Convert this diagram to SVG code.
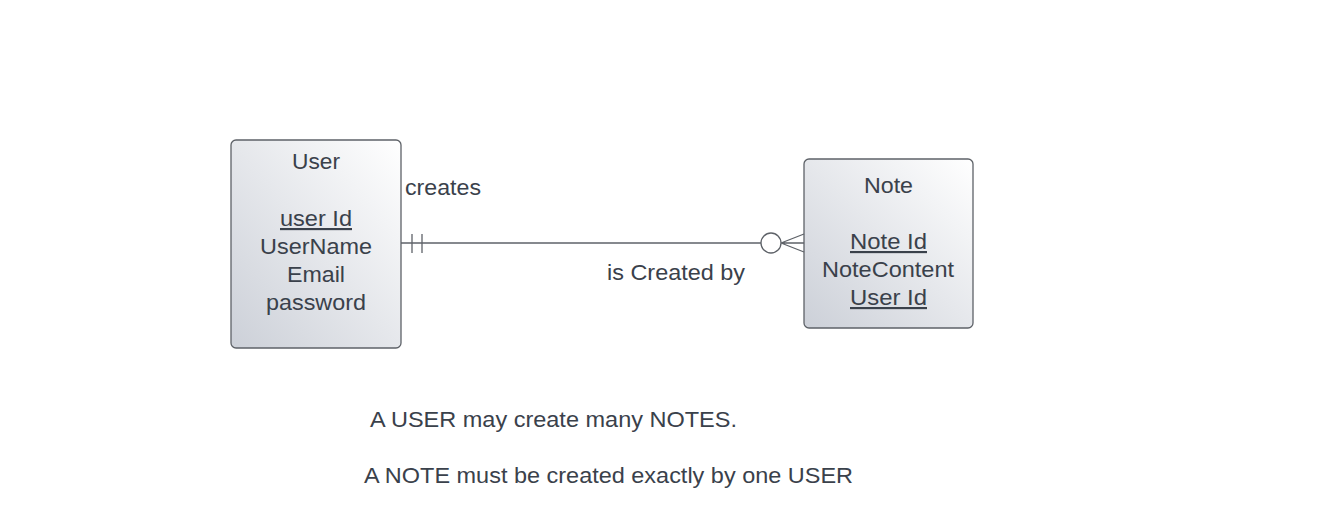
<svg xmlns="http://www.w3.org/2000/svg" width="1342" height="515" viewBox="0 0 1342 515">
<defs>
<linearGradient id="g" x1="1" y1="0" x2="0" y2="1">
<stop offset="0" stop-color="#ffffff"/>
<stop offset="1" stop-color="#ccd0d8"/>
</linearGradient>
<style>
.box{fill:url(#g);stroke:#5e6268;stroke-width:1.3}
.t{font-family:"Liberation Sans",Arial,sans-serif;font-size:21.5px;fill:#3a414b}
.c{text-anchor:middle}
.u{text-decoration:underline}
.ln{stroke:#5e6268;stroke-width:1.3;fill:none}
</style>
</defs>
<rect width="1342" height="515" fill="#ffffff"/>
<g id="user">
<rect class="box" x="231" y="140" width="170" height="208" rx="5"/>
<text class="t c" x="316" y="169" textLength="48" lengthAdjust="spacingAndGlyphs">User</text>
<text class="t c u" x="316" y="226" textLength="72" lengthAdjust="spacingAndGlyphs">user Id</text>
<text class="t c" x="316" y="254" textLength="112" lengthAdjust="spacingAndGlyphs">UserName</text>
<text class="t c" x="316" y="282" textLength="58" lengthAdjust="spacingAndGlyphs">Email</text>
<text class="t c" x="316" y="310" textLength="100" lengthAdjust="spacingAndGlyphs">password</text>
</g>
<g id="note">
<rect class="box" x="804" y="159" width="169" height="169" rx="5"/>
<text class="t c" x="888.5" y="193" textLength="49" lengthAdjust="spacingAndGlyphs">Note</text>
<text class="t c u" x="888.5" y="249" textLength="77" lengthAdjust="spacingAndGlyphs">Note Id</text>
<text class="t c" x="888" y="277" textLength="132" lengthAdjust="spacingAndGlyphs">NoteContent</text>
<text class="t c u" x="888.5" y="305" textLength="77" lengthAdjust="spacingAndGlyphs">User Id</text>
</g>
<g id="connectors">
<line class="ln" x1="401" y1="243" x2="761" y2="243"/>
<line class="ln" x1="412" y1="234" x2="412" y2="253"/>
<line class="ln" x1="422" y1="234" x2="422" y2="253"/>
<circle class="ln" cx="771" cy="243" r="10" fill="#ffffff"/>
<path class="ln" d="M781 243 L804 234 M781 243 L804 243 M781 243 L804 252"/>
<text class="t" x="405" y="195" textLength="76" lengthAdjust="spacingAndGlyphs">creates</text>
<text class="t" x="607" y="280" textLength="138" lengthAdjust="spacingAndGlyphs">is Created by</text>
</g>
<text class="t" x="370" y="427" textLength="367" lengthAdjust="spacingAndGlyphs">A USER may create many NOTES.</text>
<text class="t" x="364" y="483" textLength="489" lengthAdjust="spacingAndGlyphs">A NOTE must be created exactly by one USER</text>
</svg>
